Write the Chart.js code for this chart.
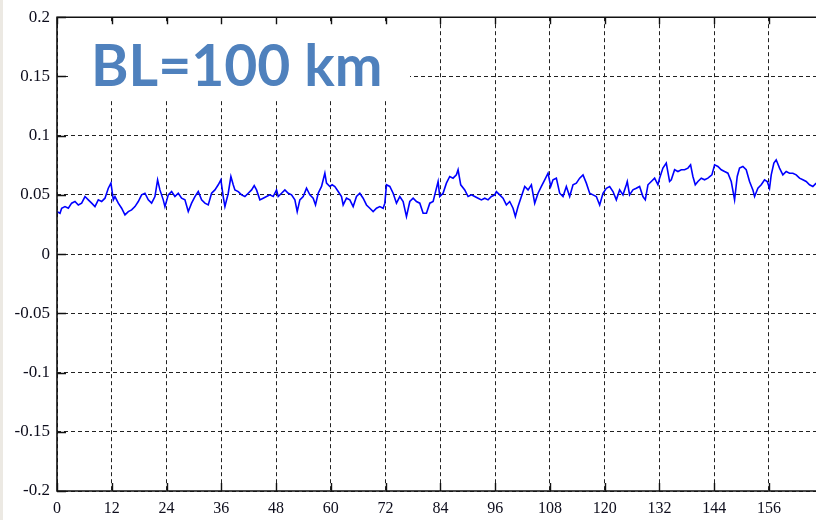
<!DOCTYPE html>
<html>
<head>
<meta charset="utf-8">
<script src="https://cdn.jsdelivr.net/npm/chart.js@4/dist/chart.umd.min.js"></script>
<style>
	html, body { margin: 0; padding: 0; background: #fff; }
	#wrap { width: 816px; height: 520px; position: relative; }
</style>
</head>
<body>
<div id="wrap"><canvas id="chart" width="816" height="520"></canvas></div>
<script>
// values (time in hours, residual)
const hours = [
	0, 0.66, 1.02, 1.75, 2.48, 3.21, 3.94, 4.67, 5.40, 6.13, 6.86, 7.59, 8.32, 9.05, 9.78, 10.51, 11.24, 11.82, 12.34, 12.70,
	13.43, 14.16, 14.89, 15.62, 16.35, 17.08, 17.81, 18.54, 19.27, 20.00, 20.73, 21.46, 22.04, 22.55, 23.28, 23.65, 24.38, 25.11, 25.84, 26.57,
	27.30, 28.03, 28.76, 29.49, 30.22, 30.95, 31.68, 32.41, 33.14, 33.87, 34.60, 35.33, 35.91, 36.42, 36.79, 37.52, 38.10, 38.61, 38.98, 39.71,
	40.44, 41.17, 41.90, 42.63, 43.21, 43.72, 44.45, 45.18, 45.91, 46.64, 47.37, 48.10, 48.47, 49.20, 49.93, 50.66, 51.39, 52.12, 52.63, 53.21,
	53.94, 54.67, 55.40, 56.13, 56.64, 57.23, 57.96, 58.69, 59.05, 59.78, 60.29, 60.88, 61.61, 62.34, 62.70, 63.43, 64.16, 64.89, 65.62, 66.35,
	67.08, 67.81, 68.54, 69.27, 70.00, 70.73, 71.46, 71.83, 72.19, 72.92, 73.65, 74.38, 75.11, 75.84, 76.57, 77.30, 78.03, 78.76, 79.49, 80.22,
	80.95, 81.68, 82.41, 82.77, 83.50, 83.86, 84.59, 85.32, 86.05, 86.78, 87.51, 87.88, 88.46, 89.34, 90.07, 90.80, 91.53, 92.26, 92.99, 93.72,
	94.45, 95.18, 95.91, 96.27, 97.00, 97.73, 98.46, 99.19, 99.92, 100.43, 101.02, 101.75, 102.48, 103.21, 103.94, 104.67, 105.40, 106.13, 106.86, 107.59,
	108.17, 108.68, 109.41, 110.14, 110.87, 111.60, 112.33, 113.06, 113.79, 114.52, 115.25, 115.98, 116.71, 117.44, 118.17, 118.90, 119.63, 120.36, 121.09, 121.82,
	122.55, 123.28, 124.01, 124.74, 124.95, 125.46, 126.19, 126.92, 127.65, 128.38, 128.90, 129.48, 130.21, 130.94, 131.67, 132.03, 132.76, 133.49, 134.22, 134.59,
	135.32, 136.05, 136.78, 137.51, 138.24, 138.82, 139.33, 139.85, 140.43, 141.16, 141.89, 142.62, 143.49, 144.08, 144.81, 145.54, 146.27, 147.00, 147.73, 148.46,
	149.04, 149.55, 150.28, 151.01, 151.74, 152.47, 152.84, 153.57, 154.30, 155.03, 155.61, 156.12, 156.49, 157.07, 157.58, 158.31, 159.04, 159.77, 160.50, 161.23,
	161.96, 162.69, 163.42, 164.15, 164.88, 165.61, 166.34
];
const residual = [
	0.0359, 0.0345, 0.0387, 0.0401, 0.0387, 0.0430, 0.0444, 0.0415, 0.0430, 0.0486, 0.0458, 0.0430, 0.0401, 0.0458, 0.0444, 0.0472, 0.0556, 0.0599, 0.0458, 0.0486,
	0.0430, 0.0387, 0.0331, 0.0359, 0.0373, 0.0401, 0.0444, 0.0500, 0.0514, 0.0458, 0.0430, 0.0486, 0.0627, 0.0542, 0.0458, 0.0401, 0.0500, 0.0528, 0.0486, 0.0514,
	0.0472, 0.0458, 0.0359, 0.0430, 0.0486, 0.0528, 0.0458, 0.0430, 0.0415, 0.0514, 0.0542, 0.0585, 0.0627, 0.0486, 0.0401, 0.0514, 0.0655, 0.0585, 0.0542, 0.0528,
	0.0500, 0.0486, 0.0514, 0.0542, 0.0579, 0.0542, 0.0458, 0.0472, 0.0486, 0.0500, 0.0486, 0.0542, 0.0486, 0.0514, 0.0542, 0.0514, 0.0500, 0.0458, 0.0359, 0.0458,
	0.0486, 0.0556, 0.0500, 0.0472, 0.0415, 0.0514, 0.0571, 0.0683, 0.0599, 0.0571, 0.0585, 0.0571, 0.0528, 0.0486, 0.0415, 0.0472, 0.0458, 0.0401, 0.0486, 0.0514,
	0.0472, 0.0415, 0.0387, 0.0359, 0.0387, 0.0401, 0.0387, 0.0430, 0.0585, 0.0571, 0.0514, 0.0430, 0.0486, 0.0444, 0.0317, 0.0444, 0.0472, 0.0444, 0.0430, 0.0345,
	0.0345, 0.0430, 0.0444, 0.0500, 0.0613, 0.0486, 0.0514, 0.0599, 0.0655, 0.0641, 0.0669, 0.0712, 0.0585, 0.0542, 0.0486, 0.0500, 0.0486, 0.0472, 0.0458, 0.0472,
	0.0458, 0.0486, 0.0500, 0.0528, 0.0500, 0.0472, 0.0415, 0.0444, 0.0387, 0.0317, 0.0401, 0.0486, 0.0571, 0.0542, 0.0585, 0.0430, 0.0514, 0.0571, 0.0627, 0.0683,
	0.0571, 0.0627, 0.0641, 0.0514, 0.0486, 0.0571, 0.0486, 0.0585, 0.0599, 0.0641, 0.0669, 0.0599, 0.0514, 0.0500, 0.0486, 0.0415, 0.0514, 0.0556, 0.0571, 0.0528,
	0.0458, 0.0542, 0.0500, 0.0585, 0.0613, 0.0500, 0.0542, 0.0556, 0.0571, 0.0486, 0.0458, 0.0585, 0.0613, 0.0641, 0.0585, 0.0641, 0.0726, 0.0768, 0.0613, 0.0627,
	0.0712, 0.0697, 0.0712, 0.0712, 0.0726, 0.0754, 0.0655, 0.0585, 0.0613, 0.0641, 0.0627, 0.0641, 0.0669, 0.0754, 0.0740, 0.0712, 0.0697, 0.0683, 0.0613, 0.0458,
	0.0655, 0.0726, 0.0740, 0.0712, 0.0613, 0.0542, 0.0486, 0.0556, 0.0585, 0.0627, 0.0613, 0.0556, 0.0669, 0.0768, 0.0796, 0.0726, 0.0669, 0.0697, 0.0683, 0.0683,
	0.0669, 0.0641, 0.0627, 0.0613, 0.0585, 0.0571, 0.0599
];
const xTicks = [0, 12, 24, 36, 48, 60, 72, 84, 96, 108, 120, 132, 144, 156];
const yTicks = [-0.2, -0.15, -0.1, -0.05, 0, 0.05, 0.1, 0.15, 0.2];
const label = 'BL=100 km';

const serif = '"Liberation Serif", "Times New Roman", serif';

// matlab style frame: inward ticks, solid box edges, label with white fill
const frame = {
	id: 'frame',
	beforeDraw(chart) {
		const ctx = chart.ctx;
		ctx.save();
		ctx.fillStyle = '#fff';
		ctx.fillRect(0, 0, chart.width, chart.height);
		ctx.fillStyle = '#ece9e3';
		ctx.fillRect(0, 0, 3, chart.height);
		ctx.restore();
	},
	beforeDatasetsDraw(chart) {
		const ctx = chart.ctx;
		ctx.save();
		ctx.fillStyle = '#fff';
		ctx.fillRect(68, 24, 342, 77);
		ctx.fillStyle = '#4f81bd';
		ctx.font = 'bold 57px Lato, "Open Sans", sans-serif';
		ctx.textBaseline = 'alphabetic';
		ctx.fillText(label, 91, 86);
		ctx.restore();
	},
	afterDatasetsDraw(chart) {
		const { ctx, chartArea: a, scales } = chart;
		ctx.save();
		ctx.strokeStyle = '#111';
		ctx.lineWidth = 1.6;
		ctx.beginPath();
		ctx.moveTo(a.right, a.top);
		ctx.lineTo(a.left, a.top);
		ctx.lineTo(a.left, a.bottom);
		ctx.lineTo(a.right, a.bottom);
		ctx.stroke();
		ctx.lineWidth = 1.4;
		ctx.beginPath();
		xTicks.forEach((t) => {
			const px = Math.round(scales.x.getPixelForValue(t)) + 0.5;
			ctx.moveTo(px, a.top);
			ctx.lineTo(px, a.top + 7);
			ctx.moveTo(px, a.bottom);
			ctx.lineTo(px, a.bottom - 8);
		});
		yTicks.forEach((t) => {
			const py = Math.round(scales.y.getPixelForValue(t)) + 0.5;
			ctx.moveTo(a.left, py);
			ctx.lineTo(a.left + 9, py);
		});
		ctx.stroke();
		ctx.restore();
	},
};

new Chart(document.getElementById('chart'), {
	type: 'line',
	data: {
		datasets: [
			{
				data: hours.map((h, i) => ({ x: h, y: residual[i] })),
				borderColor: '#0000ff',
				borderWidth: 1.6,
				pointRadius: 0,
				tension: 0,
				fill: false,
			},
		],
	},
	plugins: [frame],
	options: {
		responsive: false,
		animation: false,
		layout: { padding: { top: 17, right: 0, left: 0, bottom: 0 } },
		plugins: {
			legend: { display: false },
			tooltip: { enabled: false },
		},
		scales: {
			x: {
				type: 'linear',
				min: 0,
				max: 166.3,
				afterBuildTicks: (s) => {
					s.ticks = xTicks.map((v) => ({ value: v }));
				},
				afterFit: (s) => {
					s.height = 29;
				},
				border: { display: false, dash: [4, 3] },
				grid: { color: '#222', lineWidth: 1, drawTicks: false },
				ticks: {
					color: '#0d0d1c',
					padding: 8,
					maxRotation: 0,
					autoSkip: false,
					font: { family: serif, size: 16 },
				},
			},
			y: {
				min: -0.2,
				max: 0.2,
				afterBuildTicks: (s) => {
					s.ticks = yTicks.map((v) => ({ value: v }));
				},
				afterFit: (s) => {
					s.width = 57;
				},
				border: { display: false, dash: [4, 3] },
				grid: { color: '#222', lineWidth: 1, drawTicks: false },
				ticks: {
					color: '#0d0d1c',
					padding: 7,
					autoSkip: false,
					font: { family: serif, size: 17 },
					callback: (v) => String(+v.toFixed(2)),
				},
			},
		},
	},
});
</script>
</body>
</html>
